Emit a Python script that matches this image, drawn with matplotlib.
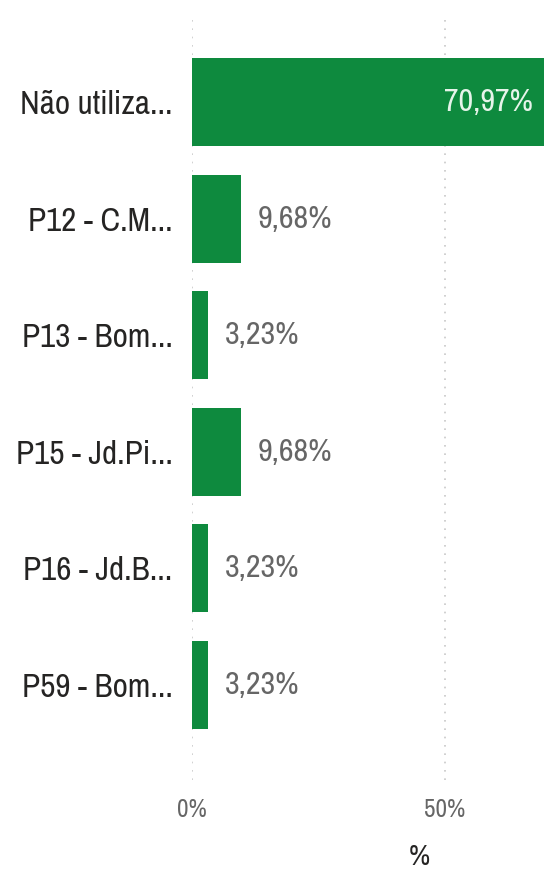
import matplotlib
matplotlib.use('Agg')
import matplotlib.pyplot as plt
from matplotlib import font_manager

# data
categorias = ['Não utiliza...', 'P12 - C.M...', 'P13 - Bom...',
              'P15 - Jd.Pi...', 'P16 - Jd.B...', 'P59 - Bom...']
valores = [70.97, 9.68, 3.23, 9.68, 3.23, 3.23]
ticks_x = [0, 50]
ticks_txt = ['0%', '50%']

verde = '#0e8a3e'

# the original text is very narrow, look for a condensed font if there is one
fontes = [(f.name, f.stretch) for f in font_manager.fontManager.ttflist]
familia, largura = 'Lato', 'normal'
for nome, st in fontes:
    if 'Narrow' in nome or 'Condensed' in nome:
        familia, largura = nome, 'normal'
        break
else:
    for nome, st in fontes:
        if nome == 'DejaVu Sans' and st in ('condensed', 'semi-condensed'):
            familia, largura = nome, st
            break
plt.rcParams['font.family'] = [familia, 'DejaVu Sans']
plt.rcParams['font.stretch'] = largura
plt.rcParams['font.weight'] = 'light'

fig = plt.figure(figsize=(5.44, 8.72), dpi=100)

# size the font so "Não utiliza..." is ~153 px wide like in the picture
t = fig.text(0, 0, categorias[0], fontsize=10)
w = t.get_window_extent(fig.canvas.get_renderer()).width
t.remove()
base = 10 * 153 / w

ax = fig.add_axes([192/544, 92/872, 352/544, 766/872])

y = list(range(len(categorias)))
ax.barh(y, valores, height=0.755, color=verde, zorder=2)

xmax = 69.57
ax.set_xlim(0, xmax)
ax.set_ylim(5.815, -0.755)

# rotulos de valor
for i, v in enumerate(valores):
    txt = f'{v:.2f}%'.replace('.', ',')
    if v > xmax * 0.5:
        ax.annotate(txt, xy=(min(v, xmax), i), xytext=(-8, 0), textcoords='offset points',
                    ha='right', va='center', fontsize=base * 0.97, color='#e6f4ea', zorder=3)
    else:
        ax.annotate(txt, xy=(v, i), xytext=(12, 0), textcoords='offset points',
                    ha='left', va='center', fontsize=base * 0.97, color='#666666', zorder=3)

ax.set_yticks(y)
ax.set_yticklabels(categorias, fontsize=base, color='#252423')
ax.set_xticks(ticks_x)
ax.set_xticklabels(ticks_txt, fontsize=base * 0.76, color='#666666')
ax.tick_params(axis='both', length=0)
ax.tick_params(axis='y', pad=14)
ax.tick_params(axis='x', pad=13)

ax.grid(axis='x', linestyle=(0, (1, 4)), color='#c8c8c8', linewidth=1.2, zorder=1)
ax.grid(axis='y', visible=False)
for s in ax.spines.values():
    s.set_visible(False)

ax.set_xlabel('%', fontsize=base * 0.88, color='#252423')
ax.xaxis.set_label_coords((419-192)/352, -0.082)

fig.savefig('out.png', dpi=100)
